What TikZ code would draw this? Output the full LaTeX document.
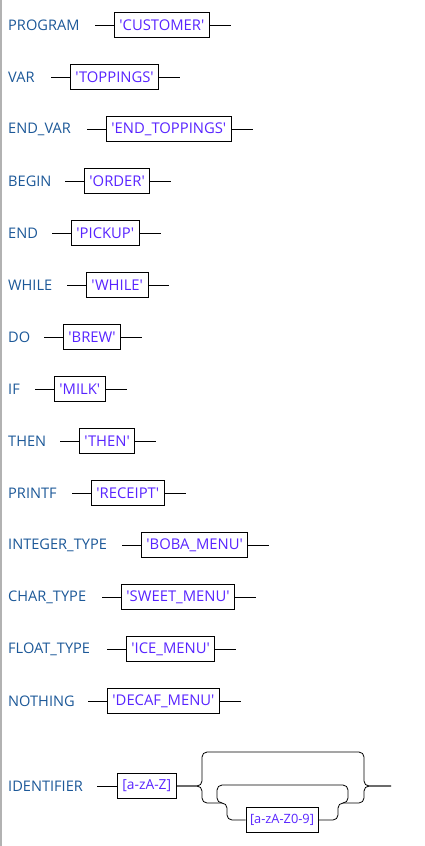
\documentclass[tikz,border=0pt]{standalone}
\usepackage{fontspec}
\newfontfamily\railfont{Open Sans}
\usetikzlibrary{positioning}
\definecolor{rulecol}{RGB}{28,88,152}
\definecolor{termcol}{RGB}{88,36,255}
\tikzset{
  rulename/.style = {anchor=west, inner sep=0pt, text=rulecol,
                     font=\railfont\fontsize{14.6}{16}\selectfont},
  terminal/.style = {shape=rectangle, draw, line width=0.9pt,
                     minimum height=25pt, inner xsep=5pt, inner ysep=0pt,
                     text=termcol, font=\railfont\fontsize{14.8}{16}\selectfont},
  charset/.style  = {terminal, font=\railfont\fontsize{13.8}{16}\selectfont},
  rail/.style     = {draw, line width=0.8pt}
}

\begin{document}
\begin{tikzpicture}[x=1pt, y=-1pt]
\useasboundingbox (0,0) rectangle (425,846);
\draw[gray!60, line width=1.5pt] (0.75,0) -- (0.75,846);

% keywords
\node [rulename] (program) at (8,25) {PROGRAM};
\coordinate (programin) at (95,25);
\node [terminal, right=19pt of programin] (customer) {'CUSTOMER'};
\coordinate [right=21pt of customer] (programout);
\draw [rail] (programin) -- (customer) (customer) -- (programout);

\node [rulename] (var) at (8,77) {VAR};
\coordinate (varin) at (51,77);
\node [terminal, right=19pt of varin] (toppings) {'TOPPINGS'};
\coordinate [right=21pt of toppings] (varout);
\draw [rail] (varin) -- (toppings) (toppings) -- (varout);

\node [rulename] (endvar) at (8,129) {END\_VAR};
\coordinate (endvarin) at (87,129);
\node [terminal, right=19pt of endvarin] (endtoppings) {'END\_TOPPINGS'};
\coordinate [right=21pt of endtoppings] (endvarout);
\draw [rail] (endvarin) -- (endtoppings) (endtoppings) -- (endvarout);

\node [rulename] (begin) at (8,181) {BEGIN};
\coordinate (beginin) at (65,181);
\node [terminal, right=19pt of beginin] (order) {'ORDER'};
\coordinate [right=21pt of order] (beginout);
\draw [rail] (beginin) -- (order) (order) -- (beginout);

\node [rulename] (end) at (8,233) {END};
\coordinate (endin) at (52,233);
\node [terminal, right=19pt of endin] (pickup) {'PICKUP'};
\coordinate [right=21pt of pickup] (endout);
\draw [rail] (endin) -- (pickup) (pickup) -- (endout);

\node [rulename] (while) at (8,285) {WHILE};
\coordinate (whilein) at (67,285);
\node [terminal, right=19pt of whilein] (whilekw) {'WHILE'};
\coordinate [right=21pt of whilekw] (whileout);
\draw [rail] (whilein) -- (whilekw) (whilekw) -- (whileout);

\node [rulename] (do) at (8,337) {DO};
\coordinate (doin) at (44,337);
\node [terminal, right=19pt of doin] (brew) {'BREW'};
\coordinate [right=21pt of brew] (doout);
\draw [rail] (doin) -- (brew) (brew) -- (doout);

\node [rulename] (if) at (8,389) {IF};
\coordinate (ifin) at (35,389);
\node [terminal, right=19pt of ifin] (milk) {'MILK'};
\coordinate [right=21pt of milk] (ifout);
\draw [rail] (ifin) -- (milk) (milk) -- (ifout);

\node [rulename] (then) at (8,441) {THEN};
\coordinate (thenin) at (60,441);
\node [terminal, right=19pt of thenin] (thenkw) {'THEN'};
\coordinate [right=21pt of thenkw] (thenout);
\draw [rail] (thenin) -- (thenkw) (thenkw) -- (thenout);

\node [rulename] (printf) at (8,493) {PRINTF};
\coordinate (printfin) at (72,493);
\node [terminal, right=19pt of printfin] (receipt) {'RECEIPT'};
\coordinate [right=21pt of receipt] (printfout);
\draw [rail] (printfin) -- (receipt) (receipt) -- (printfout);

% types
\node [rulename] (inttype) at (8,545) {INTEGER\_TYPE};
\coordinate (inttypein) at (122,545);
\node [terminal, right=19pt of inttypein] (boba) {'BOBA\_MENU'};
\coordinate [right=21pt of boba] (inttypeout);
\draw [rail] (inttypein) -- (boba) (boba) -- (inttypeout);

\node [rulename] (chartype) at (8,597) {CHAR\_TYPE};
\coordinate (chartypein) at (102,597);
\node [terminal, right=19pt of chartypein] (sweet) {'SWEET\_MENU'};
\coordinate [right=21pt of sweet] (chartypeout);
\draw [rail] (chartypein) -- (sweet) (sweet) -- (chartypeout);

\node [rulename] (floattype) at (8,649) {FLOAT\_TYPE};
\coordinate (floattypein) at (107,649);
\node [terminal, right=19pt of floattypein] (ice) {'ICE\_MENU'};
\coordinate [right=21pt of ice] (floattypeout);
\draw [rail] (floattypein) -- (ice) (ice) -- (floattypeout);

\node [rulename] (nothing) at (8,701) {NOTHING};
\coordinate (nothingin) at (88,701);
\node [terminal, right=19pt of nothingin] (decaf) {'DECAF\_MENU'};
\coordinate [right=21pt of decaf] (nothingout);
\draw [rail] (nothingin) -- (decaf) (decaf) -- (nothingout);

% identifier with repeat
\node [rulename] (identifier) at (8,786) {IDENTIFIER};
\coordinate (identin) at (97,786);
\node [charset, right=20pt of identin] (letter) {[a-zA-Z]};
\node [charset, inner xsep=4pt, font=\railfont\fontsize{12.8}{16}\selectfont]
  (alnum) at (282,820) {[a-zA-Z0-9]};
\coordinate (identout) at (391,786);
\draw [rail] (identin) -- (letter);
\draw [rail, rounded corners=5pt] (letter.east) -- (202,786) -- (202,752)
  -- (364,752) -- (364,786) -- (identout);
\draw [rail, rounded corners=5pt] (letter.east) -- (202,786) -- (202,803)
  -- (227,803) -- (227,820) -- (alnum.west);
\draw [rail, rounded corners=5pt] (alnum.east) -- (338,820) -- (338,803)
  -- (364,803) -- (364,786) -- (identout);
\draw [rail, rounded corners=5pt] (222,803) -- (217,803) -- (217,785)
  -- (348,785) -- (348,803) -- (343,803);
\end{tikzpicture}
\end{document}
